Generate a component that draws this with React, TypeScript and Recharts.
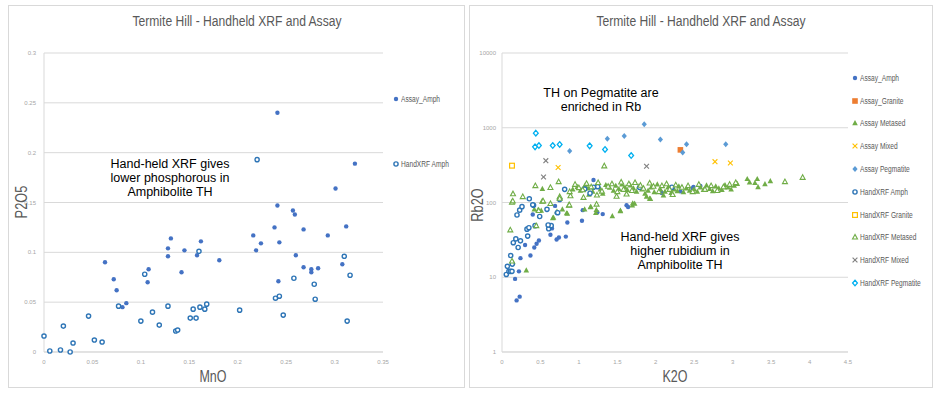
import React from 'react';
import { ScatterChart, Scatter, XAxis, YAxis, CartesianGrid } from 'recharts';

const ARIAL = '"Liberation Sans", Arial, sans-serif';

const TITLE = 'Termite Hill - Handheld XRF and Assay';

// left chart: MnO vs P2O5
const MNO_TICKS = [0, 0.05, 0.1, 0.15, 0.2, 0.25, 0.3, 0.35];
const P2O5_TICKS = [0, 0.05, 0.1, 0.15, 0.2, 0.25, 0.3];

const assayAmphP = [
  [0.063, 0.09], [0.072, 0.073], [0.075, 0.062], [0.081, 0.045], [0.085, 0.049],
  [0.108, 0.083], [0.107, 0.07], [0.128, 0.104], [0.128, 0.096], [0.131, 0.114],
  [0.145, 0.102], [0.142, 0.08], [0.158, 0.097], [0.162, 0.111], [0.181, 0.092],
  [0.216, 0.117], [0.219, 0.102], [0.224, 0.109], [0.238, 0.125], [0.241, 0.147],
  [0.243, 0.11], [0.242, 0.071], [0.257, 0.142], [0.259, 0.138], [0.26, 0.097],
  [0.268, 0.123], [0.268, 0.085], [0.276, 0.083], [0.276, 0.08], [0.283, 0.084],
  [0.293, 0.117], [0.308, 0.088], [0.312, 0.126], [0.301, 0.164], [0.241, 0.24],
  [0.321, 0.189],
];

const handAmphP = [
  [0.0, 0.016], [0.006, 0.001], [0.017, 0.002], [0.02, 0.026], [0.027, 0.0],
  [0.03, 0.009], [0.046, 0.036], [0.052, 0.012], [0.06, 0.01], [0.077, 0.046],
  [0.1, 0.031], [0.104, 0.078], [0.112, 0.04], [0.119, 0.027], [0.128, 0.046],
  [0.136, 0.021], [0.138, 0.022], [0.151, 0.034], [0.154, 0.043], [0.157, 0.034],
  [0.16, 0.101], [0.161, 0.045], [0.166, 0.043], [0.168, 0.048], [0.202, 0.042],
  [0.239, 0.054], [0.243, 0.056], [0.247, 0.037], [0.258, 0.074], [0.279, 0.068],
  [0.28, 0.053], [0.31, 0.096], [0.313, 0.031], [0.316, 0.077], [0.22, 0.193],
];

// right chart: K2O vs Rb2O (log)
const K2O_TICKS = [0, 0.5, 1, 1.5, 2, 2.5, 3, 3.5, 4, 4.5];
const RB2O_TICKS = [1, 10, 100, 1000, 10000];

const assayAmphR = [
  [0.19, 4.9], [0.23, 5.5], [0.17, 9.5], [0.22, 12], [0.24, 18], [0.3, 27],
  [0.37, 19.5], [0.42, 25], [0.45, 28], [0.48, 31], [0.4, 69], [0.63, 37],
  [0.71, 32], [0.74, 34], [0.83, 35], [0.85, 54], [1.04, 57], [1.05, 79],
  [0.69, 90], [0.71, 73], [0.72, 74], [1.05, 150], [1.07, 148], [1.19, 200],
  [1.24, 74], [1.31, 70], [1.62, 92], [1.64, 87], [2.08, 134], [2.32, 141],
  [2.49, 161], [2.58, 166], [2.48, 155], [0.62, 50], [0.65, 45], [2.07, 137],
];

const assayGraniteR = [[2.32, 506]];

const assayMetasedR = [
  [0.316, 12.4], [0.14, 16], [0.42, 81], [0.47, 80], [0.51, 78], [0.525, 153],
  [0.66, 62], [0.67, 63], [0.715, 76], [0.785, 81], [0.84, 72], [0.85, 71],
  [1.075, 81], [1.15, 87], [1.155, 88], [1.22, 73], [1.227, 80], [1.435, 66],
  [1.54, 78], [1.54, 77], [1.695, 92], [1.7, 98], [1.725, 97], [1.92, 113],
  [0.92, 150], [0.98, 162], [1.02, 145], [1.08, 170], [1.12, 155], [1.18, 140],
  [1.22, 165], [1.28, 150], [1.35, 172], [1.4, 158], [1.45, 145], [1.48, 168],
  [1.52, 152], [1.56, 175], [1.6, 160], [1.63, 148], [1.67, 170], [1.71, 155],
  [1.75, 140], [1.78, 165], [1.82, 150], [1.86, 132], [1.88, 120], [1.9, 145],
  [1.94, 160], [1.98, 138], [2.02, 175], [2.06, 150], [2.1, 125], [2.12, 140],
  [2.16, 160], [2.2, 135], [2.24, 150], [2.28, 142], [2.3, 165], [2.36, 138],
  [2.4, 155], [2.44, 145], [2.5, 150], [2.54, 140], [2.58, 160], [2.62, 148],
  [2.66, 170], [2.7, 152], [2.74, 142], [2.78, 165], [2.82, 155], [2.86, 148],
  [2.9, 172], [2.94, 160], [2.98, 150], [3.02, 168], [3.06, 178], [1.93, 112],
  [1.31, 132], [1.13, 128], [3.19, 207], [3.22, 187], [3.29, 183], [3.32, 207],
  [3.33, 161], [3.42, 177], [3.49, 194],
];

const assayMixedR = [[0.73, 294], [2.77, 352], [2.97, 338]];

const assayPegR = [
  [0.88, 490], [1.37, 711], [1.59, 773], [1.85, 1110], [2.06, 697], [2.4, 603],
  [2.35, 466], [2.91, 603],
];

const handAmphR = [
  [0.056, 10.9], [0.07, 14], [0.09, 12], [0.11, 12], [0.13, 12], [0.113, 19.5],
  [0.134, 15], [0.147, 29], [0.18, 32.6], [0.21, 25], [0.24, 30.7], [0.195, 68],
  [0.23, 79], [0.26, 88], [0.325, 44], [0.334, 35.5], [0.35, 46], [0.355, 112],
  [0.41, 92], [0.43, 49], [0.49, 65], [0.585, 81], [0.607, 44.5], [0.64, 49],
  [0.724, 73], [0.75, 110], [0.4, 93], [0.815, 150], [1.075, 151], [1.145, 133],
  [1.19, 160], [1.245, 163], [1.79, 159], [2.21, 160], [0.6, 50],
];

const handGraniteR = [[0.13, 311]];

const handMetasedR = [
  [0.13, 16.5], [0.108, 43], [0.13, 101], [0.14, 105], [0.143, 131], [0.27, 120],
  [0.434, 168], [0.446, 49], [0.477, 78], [0.525, 104], [0.535, 105], [0.63, 97],
  [0.63, 159], [0.75, 120], [0.75, 114], [0.737, 190], [0.87, 92], [0.876, 93],
  [0.89, 123], [1.06, 117], [1.23, 95], [1.235, 126], [1.33, 309], [1.49, 121],
  [3.68, 190], [3.91, 217], [0.88, 140], [0.95, 175], [1.0, 158], [1.05, 148],
  [1.1, 180], [1.16, 162], [1.25, 185], [1.3, 142], [1.38, 165], [1.43, 178],
  [1.5, 140], [1.55, 188], [1.58, 150], [1.65, 178], [1.69, 145], [1.73, 185],
  [1.8, 170], [1.84, 155], [1.92, 182], [1.97, 165], [2.04, 140], [2.08, 168],
  [2.14, 178], [2.18, 150], [2.26, 172], [2.34, 160], [2.42, 168], [2.48, 140],
  [2.56, 175], [2.64, 150], [2.72, 168], [2.8, 145], [2.88, 162], [2.96, 175],
  [3.04, 185], [1.62, 130], [2.22, 128],
];

const handMixedR = [[0.57, 363], [0.54, 219], [1.88, 305]];

const handPegR = [
  [0.44, 847], [0.43, 555], [0.48, 578], [0.66, 578], [0.75, 597], [1.14, 573],
  [1.34, 512], [1.68, 425],
];

const pts = (arr: number[][]) => arr.map(([x, y]) => ({ x, y }));

type P = { cx?: number; cy?: number };

const markers: Record<string, (c: string) => (p: P) => React.ReactElement> = {
  dot: (c) => (p) => <circle cx={p.cx} cy={p.cy} r={2.2} fill={c} />,
  ring: (c) => (p) => <circle cx={p.cx} cy={p.cy} r={2.1} fill="#fff" stroke={c} strokeWidth={1.4} />,
  tri: (c) => (p) => (
    <polygon points={`${p.cx},${(p.cy ?? 0) - 3} ${(p.cx ?? 0) - 2.8},${(p.cy ?? 0) + 2.2} ${(p.cx ?? 0) + 2.8},${(p.cy ?? 0) + 2.2}`} fill={c} />
  ),
  hollowTri: (c) => (p) => (
    <polygon points={`${p.cx},${(p.cy ?? 0) - 2.6} ${(p.cx ?? 0) - 2.5},${(p.cy ?? 0) + 2} ${(p.cx ?? 0) + 2.5},${(p.cy ?? 0) + 2}`} fill="#fff" stroke={c} strokeWidth={1.1} />
  ),
  square: (c) => (p) => <rect x={(p.cx ?? 0) - 2.8} y={(p.cy ?? 0) - 2.8} width={5.6} height={5.6} fill={c} />,
  hollowSquare: (c) => (p) => <rect x={(p.cx ?? 0) - 2.4} y={(p.cy ?? 0) - 2.4} width={4.8} height={4.8} fill="#fff" stroke={c} strokeWidth={1.2} />,
  cross: (c) => (p) => {
    const x = p.cx ?? 0, y = p.cy ?? 0, s = 2.4;
    return (
      <g stroke={c} strokeWidth={1.1}>
        <line x1={x - s} y1={y - s} x2={x + s} y2={y + s} />
        <line x1={x - s} y1={y + s} x2={x + s} y2={y - s} />
      </g>
    );
  },
  diamond: (c) => (p) => {
    const x = p.cx ?? 0, y = p.cy ?? 0;
    return <polygon points={`${x},${y - 3} ${x + 2.6},${y} ${x},${y + 3} ${x - 2.6},${y}`} fill={c} />;
  },
  hollowDiamond: (c) => (p) => {
    const x = p.cx ?? 0, y = p.cy ?? 0;
    return <polygon points={`${x},${y - 2.8} ${x + 2.4},${y} ${x},${y + 2.8} ${x - 2.4},${y}`} fill="#fff" stroke={c} strokeWidth={1.3} />;
  },
};

const LEFT_SERIES = [
  { name: 'Assay_Amph', data: assayAmphP, marker: 'dot', color: '#4472C4' },
  { name: 'HandXRF Amph', data: handAmphP, marker: 'ring', color: '#2E75B6' },
];

const RIGHT_SERIES = [
  { name: 'Assay_Amph', data: assayAmphR, marker: 'dot', color: '#4472C4' },
  { name: 'Assay_Granite', data: assayGraniteR, marker: 'square', color: '#ED7D31' },
  { name: 'Assay Metased', data: assayMetasedR, marker: 'tri', color: '#70AD47' },
  { name: 'Assay Mixed', data: assayMixedR, marker: 'cross', color: '#FFC000' },
  { name: 'Assay Pegmatite', data: assayPegR, marker: 'diamond', color: '#5B9BD5' },
  { name: 'HandXRF Amph', data: handAmphR, marker: 'ring', color: '#2E75B6' },
  { name: 'HandXRF Granite', data: handGraniteR, marker: 'hollowSquare', color: '#FFC000' },
  { name: 'HandXRF Metased', data: handMetasedR, marker: 'hollowTri', color: '#70AD47' },
  { name: 'HandXRF Mixed', data: handMixedR, marker: 'cross', color: '#7F7F7F' },
  { name: 'HandXRF Pegmatite', data: handPegR, marker: 'hollowDiamond', color: '#00B0F0' },
];

const tickStyle = { fontSize: 6, fill: '#a6a6a6', fontFamily: ARIAL };
const GRID = '#d9d9d9';

const abs = (s: React.CSSProperties): React.CSSProperties => ({ position: 'absolute', ...s });

const Legend = ({ items, x, ys }: { items: typeof RIGHT_SERIES; x: number; ys: number[] }) => (
  <>
    {items.map((s, i) => (
      <div key={s.name} style={abs({ left: x - 4, top: ys[i] - 6, height: 12, display: 'flex', alignItems: 'center', whiteSpace: 'nowrap' })}>
        <svg width={8} height={8} style={{ marginRight: 1 }}>
          {markers[s.marker](s.color)({ cx: 4, cy: 4 })}
        </svg>
        <span style={{ display: 'inline-block', fontFamily: ARIAL, fontSize: 8.5, color: '#595959', transform: 'scaleX(0.78)', transformOrigin: 'left center' }}>{s.name}</span>
      </div>
    ))}
  </>
);

const Note = ({ x, y, lines }: { x: number; y: number; lines: string[] }) => (
  <div style={abs({ left: x - 100, top: y, width: 200, textAlign: 'center', fontFamily: ARIAL, fontSize: 12.5, lineHeight: '14px', color: '#000' })}>
    {lines.map((l) => <div key={l}>{l}</div>)}
  </div>
);

const Title = ({ x }: { x: number }) => (
  <div style={abs({ left: x - 150, top: 12, width: 300, textAlign: 'center', fontFamily: ARIAL, fontSize: 15.5, color: '#595959', transform: 'scaleX(0.78)' })}>
    {TITLE}
  </div>
);

const AxisTitle = ({ x, y, text, rotate }: { x: number; y: number; text: string; rotate?: boolean }) => (
  <div style={abs({ left: x - 40, top: y - 10, width: 80, height: 20, lineHeight: '20px', textAlign: 'center', fontFamily: ARIAL, fontSize: 16, color: '#595959', transform: rotate ? 'rotate(-90deg) scaleX(0.8)' : 'scaleX(0.78)' })}>
    {text}
  </div>
);

export default function App() {
  return (
    <div style={abs({ left: 0, top: 0, width: 939, height: 396, background: '#fff', overflow: 'hidden' })}>
      <div style={abs({ left: 8, top: 5, width: 457, height: 383, border: `1px solid ${GRID}`, boxSizing: 'border-box' })} />
      <div style={abs({ left: 469, top: 5, width: 464, height: 383, border: `1px solid ${GRID}`, boxSizing: 'border-box' })} />

      <div style={abs({ left: 0, top: 0 })}>
        <ScatterChart width={470} height={396} margin={{ top: 53, right: 87, bottom: 24, left: 0 }}>
          <CartesianGrid vertical={false} stroke={GRID} />
          <XAxis type="number" dataKey="x" domain={[0, 0.35]} ticks={MNO_TICKS} tick={tickStyle} tickLine={false} tickSize={0} tickMargin={8} axisLine={{ stroke: GRID }} height={20} />
          <YAxis type="number" dataKey="y" domain={[0, 0.3]} ticks={P2O5_TICKS} tick={tickStyle} tickLine={false} tickSize={0} tickMargin={8} axisLine={{ stroke: GRID }} width={44} />
          {LEFT_SERIES.map((s) => (
            <Scatter key={s.name} name={s.name} data={pts(s.data)} shape={markers[s.marker](s.color)} isAnimationActive={false} />
          ))}
        </ScatterChart>
      </div>

      <div style={abs({ left: 470, top: 0 })}>
        <ScatterChart width={469} height={396} margin={{ top: 53, right: 91, bottom: 24, left: 0 }}>
          <CartesianGrid vertical={false} stroke={GRID} />
          <XAxis type="number" dataKey="x" domain={[0, 4.5]} ticks={K2O_TICKS} tick={tickStyle} tickLine={false} tickSize={0} tickMargin={8} axisLine={{ stroke: GRID }} height={20} />
          <YAxis type="number" dataKey="y" scale="log" domain={[1, 10000]} ticks={RB2O_TICKS} allowDataOverflow tick={tickStyle} tickLine={false} tickSize={0} tickMargin={6} axisLine={{ stroke: GRID }} width={32} />
          {RIGHT_SERIES.map((s) => (
            <Scatter key={s.name} name={s.name} data={pts(s.data)} shape={markers[s.marker](s.color)} isAnimationActive={false} />
          ))}
        </ScatterChart>
      </div>

      <Title x={237} />
      <Title x={701} />

      <AxisTitle x={22} y={202} text="P2O5" rotate />
      <AxisTitle x={213} y={377} text="MnO" />
      <AxisTitle x={478} y={205} text="Rb2O" rotate />
      <AxisTitle x={675} y={377} text="K2O" />

      <Legend items={LEFT_SERIES} x={396} ys={[99, 164]} />
      <Legend items={RIGHT_SERIES} x={855} ys={[78, 100.7, 123.3, 146.3, 169, 191.7, 215, 237.3, 260.3, 283]} />

      <Note x={170} y={157} lines={['Hand-held XRF gives', 'lower phosphorous in', 'Amphibolite TH']} />
      <Note x={601} y={86} lines={['TH on Pegmatite are', 'enriched in Rb']} />
      <Note x={680} y={230} lines={['Hand-held XRF gives', 'higher rubidium in', 'Amphibolite TH']} />
    </div>
  );
}
